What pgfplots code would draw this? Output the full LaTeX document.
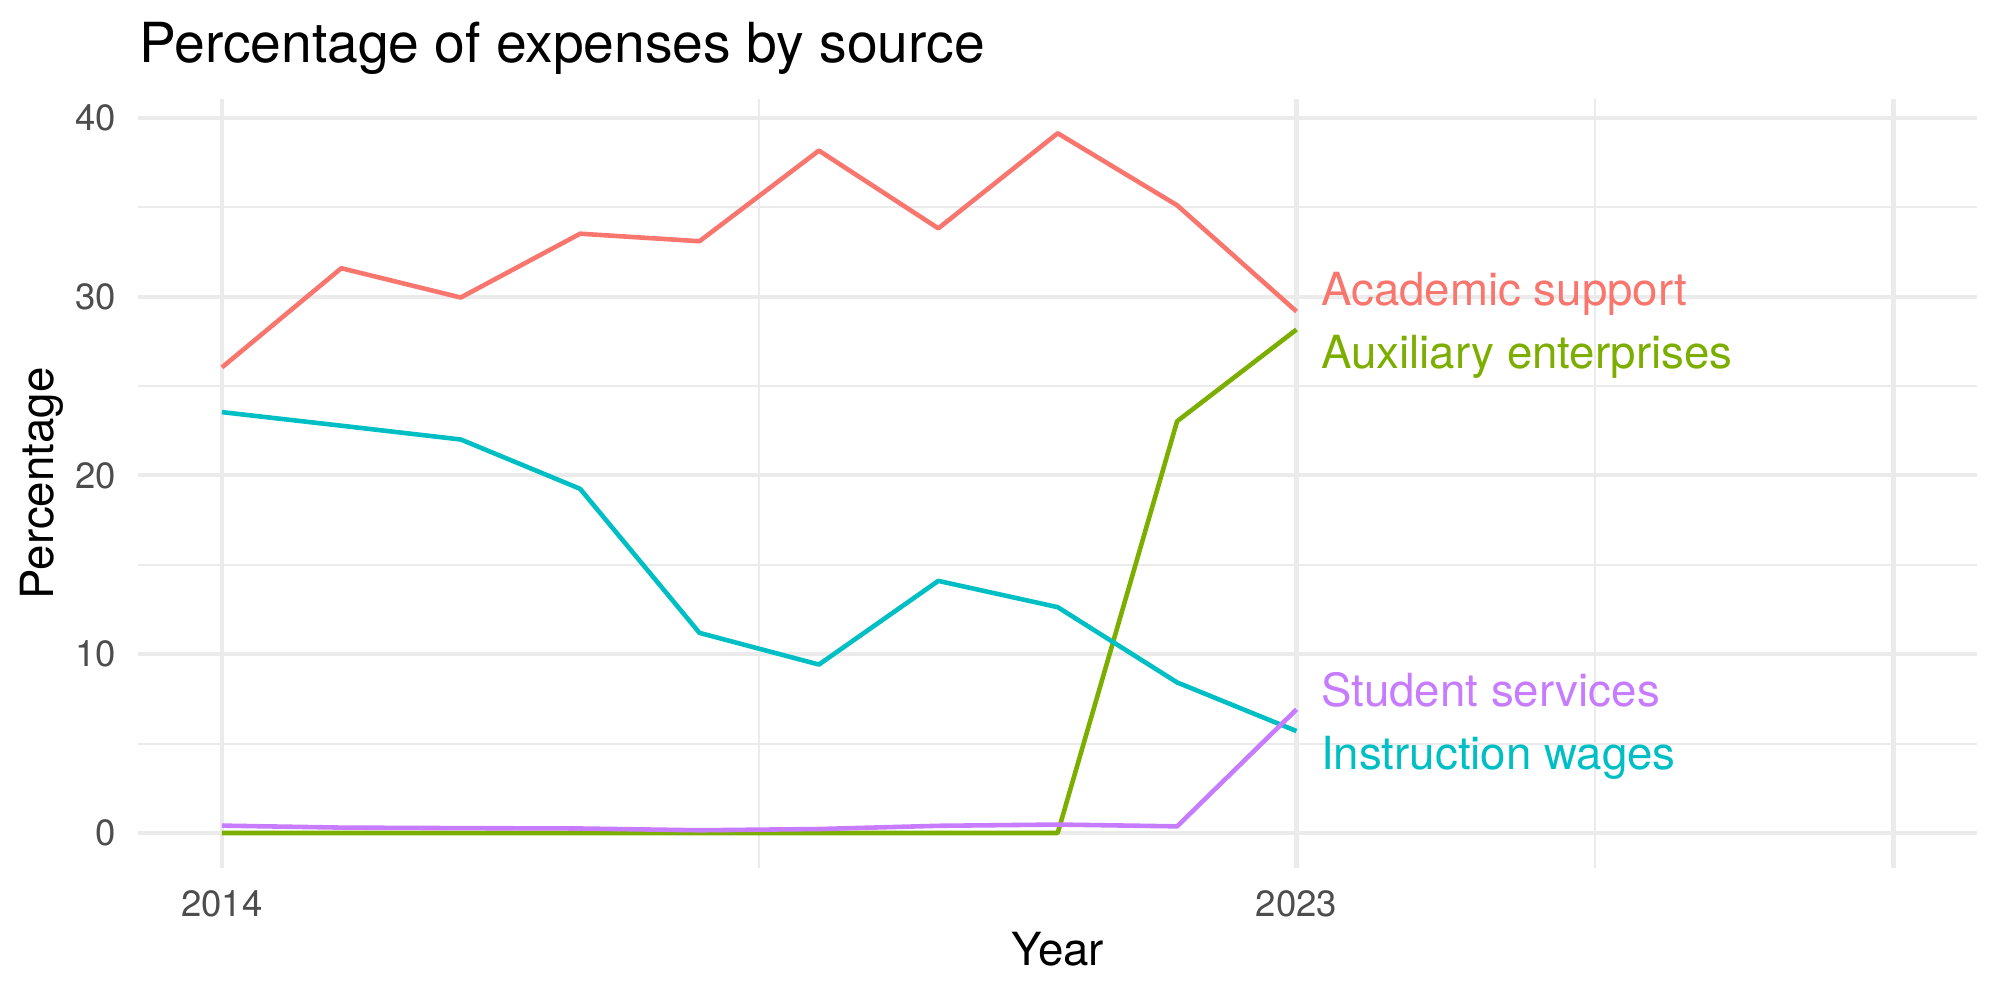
\documentclass[border=0pt]{standalone}
\usepackage{fontspec}
\setmainfont{TeX Gyre Heros}
\usepackage{pgfplots}
\pgfplotsset{compat=1.18}

\definecolor{academic}{HTML}{F8766D}
\definecolor{auxiliary}{HTML}{7CAE00}
\definecolor{instruction}{HTML}{00BFC4}
\definecolor{student}{HTML}{C77CFF}
\definecolor{gridgrey}{HTML}{EBEBEB}
\definecolor{ticklab}{HTML}{4D4D4D}

\begin{document}
\begin{tikzpicture}
\path[use as bounding box] (0,0) rectangle (480bp,240bp);
\begin{axis}[
  at={(33.2bp,31.7bp)}, anchor=south west,
  scale only axis, width=441.3bp, height=184.6bp,
  xmin=2013.3, xmax=2028.7, ymin=-1.955, ymax=41.07,
  axis line style={draw=none},
  tick style={draw=none},
  major tick length=0pt, minor tick length=0pt,
  xtick={2014,2023,2028}, xticklabels={2014,2023,{}},
  minor xtick={2018.5,2025.5},
  ytick={0,10,20,30,40}, minor ytick={5,15,25,35},
  grid=both,
  major grid style={draw=gridgrey, line width=1bp},
  minor grid style={draw=gridgrey, line width=0.5bp},
  tick label style={font=\fontsize{8.8}{10}\selectfont, text=ticklab, inner sep=0pt},
  xticklabel style={yshift=-5.3bp},
  yticklabel style={xshift=-5.2bp},
  /pgf/number format/assume math mode=true,
  clip=false,
  every axis plot/.append style={line width=1.1bp, line join=round, no markers},
]
% Academic support
\addplot[academic] coordinates {
  (2014,26.04) (2015,31.59) (2016,29.95) (2017,33.52) (2018,33.10)
  (2019,38.17) (2020,33.82) (2021,39.14) (2022,35.11) (2023,29.17)};
% Auxiliary enterprises
\addplot[auxiliary] coordinates {
  (2014,0) (2015,0) (2016,0) (2017,0) (2018,0)
  (2019,0) (2020,0) (2021,0) (2022,23.03) (2023,28.16)};
% Instruction wages
\addplot[instruction] coordinates {
  (2014,23.54) (2015,22.78) (2016,22.01) (2017,19.25) (2018,11.19)
  (2019,9.42) (2020,14.10) (2021,12.63) (2022,8.42) (2023,5.70)};
% Student services
\addplot[student] coordinates {
  (2014,0.41) (2015,0.30) (2016,0.27) (2017,0.25) (2018,0.15)
  (2019,0.22) (2020,0.40) (2021,0.47) (2022,0.37) (2023,6.91)};

% direct labels at the line ends
\begin{scope}[every node/.style={anchor=base west, inner sep=0pt, font=\fontsize{11}{13}\selectfont}]
\node[text=academic]    at (axis cs:2023.2,29.5)  {Academic support};
\node[text=auxiliary]   at (axis cs:2023.2,26.0)  {Auxiliary enterprises};
\node[text=student]     at (axis cs:2023.2,7.1)   {Student services};
\node[text=instruction] at (axis cs:2023.2,3.57)  {Instruction wages};
\end{scope}
\end{axis}

\node[anchor=base west, inner sep=0pt, font=\fontsize{13.3}{16}\selectfont] at (33.2bp,225bp) {Percentage of expenses by source};
\node[anchor=base, inner sep=0pt, font=\fontsize{11}{13}\selectfont] at (253.9bp,8.2bp) {Year};
\node[anchor=base, rotate=90, inner sep=0pt, font=\fontsize{11}{13}\selectfont] at (12.8bp,124.0bp) {Percentage};
\end{tikzpicture}
\end{document}
